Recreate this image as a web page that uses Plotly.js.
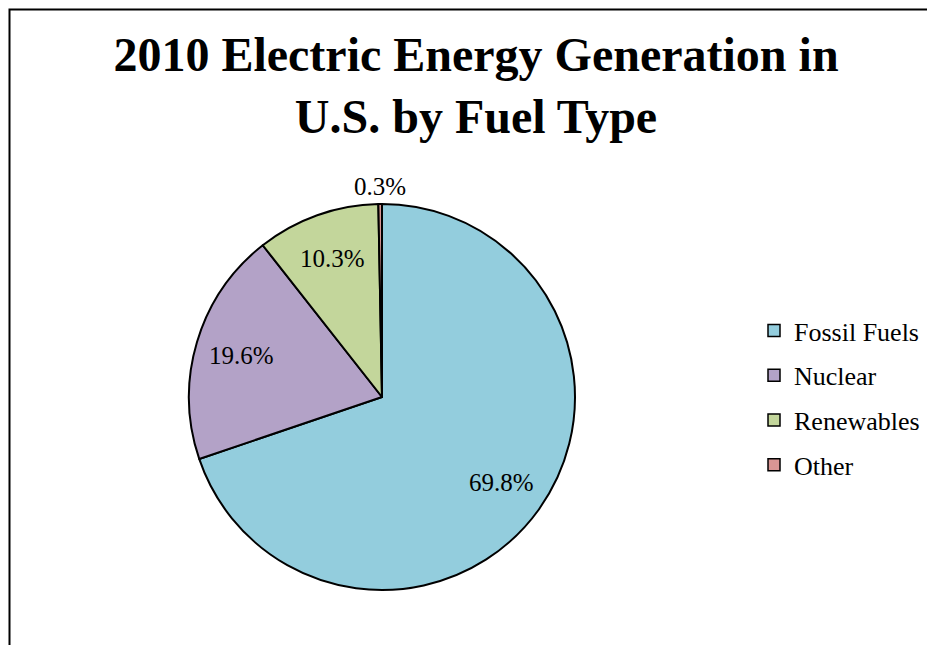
<!DOCTYPE html>
<html><head><meta charset="utf-8">
<script src="https://cdn.plot.ly/plotly-3.0.1.min.js"></script>
<style>body{margin:0;background:#fff;} #chart{width:927px;height:645px;}</style>
</head><body><div id="chart"></div>
<script>
const labels = ['Fossil Fuels', 'Nuclear', 'Renewables', 'Other'];
const values = [69.8, 19.6, 10.3, 0.3];
const colors = ['#93CDDD', '#B3A2C7', '#C3D69B', '#D99694'];
const labelInside = [true, true, true, false];
const chartTitle = '2010 Electric Energy Generation in<br>U.S. by Fuel Type';

const W = 927, H = 645;
const serif = "'Liberation Serif', 'Times New Roman', serif";
const cx = 382, cy = 397, R = 193;

const pie = {
  type: 'pie',
  labels: labels,
  values: values,
  sort: false,
  direction: 'clockwise',
  rotation: 0,
  marker: {colors: colors, line: {color: '#000', width: 2}},
  textinfo: 'none',
  hoverinfo: 'label+percent',
  showlegend: false,
  domain: {x: [(cx - R) / W, (cx + R) / W], y: [1 - (cy + R) / H, 1 - (cy - R) / H]}
};

// Data labels: placed along each slice's mid-angle (derived from the values)
const total = values.reduce((a, b) => a + b, 0);
let cum = 0;
const annotations = values.map((v, i) => {
  const f = v / total;
  const mid = (cum + f / 2) * 2 * Math.PI;
  cum += f;
  const r = labelInside[i] ? 0.76 * R : R + 18;
  const px = cx + r * Math.sin(mid);
  const py = cy - r * Math.cos(mid);
  return {
    xref: 'paper', yref: 'paper', x: px / W, y: 1 - py / H,
    xanchor: 'center', yanchor: 'middle', showarrow: false,
    text: (f * 100).toFixed(1) + '%',
    font: {family: serif, size: 25, color: '#000'}
  };
});

const legendTraces = labels.map((lab, i) => ({
  type: 'scatter', mode: 'markers', x: [null], y: [null],
  name: lab, legendgroup: 'g' + i, showlegend: true,
  marker: {symbol: 'square', size: 12, color: colors[i], line: {color: '#000', width: 1.5}},
  hoverinfo: 'skip'
}));

const layout = {
  width: W, height: H,
  margin: {l: 0, r: 0, t: 0, b: 0},
  paper_bgcolor: '#fff', plot_bgcolor: 'rgba(0,0,0,0)',
  font: {family: serif, color: '#000'},
  title: {
    text: '<b>' + chartTitle + '</b>',
    font: {family: serif, size: 48, color: '#000'},
    x: 476 / W, xanchor: 'center', xref: 'paper',
    y: 1 - 71 / H, yanchor: 'top', yref: 'paper'
  },
  xaxis: {visible: false},
  yaxis: {visible: false},
  showlegend: true,
  legend: {
    x: 754 / W, xanchor: 'left', y: 1 - 307 / H, yanchor: 'top',
    font: {family: serif, size: 26, color: '#000'},
    tracegroupgap: 8, bgcolor: 'rgba(0,0,0,0)'
  },
  annotations: annotations,
  shapes: [{
    type: 'rect', xref: 'paper', yref: 'paper',
    x0: 9.5 / W, x1: 1.1, y0: -0.1, y1: 1 - 9.5 / H,
    line: {color: '#000', width: 2}, fillcolor: 'rgba(0,0,0,0)', layer: 'above'
  }]
};

Plotly.newPlot('chart', [pie].concat(legendTraces), layout, {displayModeBar: false, staticPlot: true});
</script>
</body></html>
